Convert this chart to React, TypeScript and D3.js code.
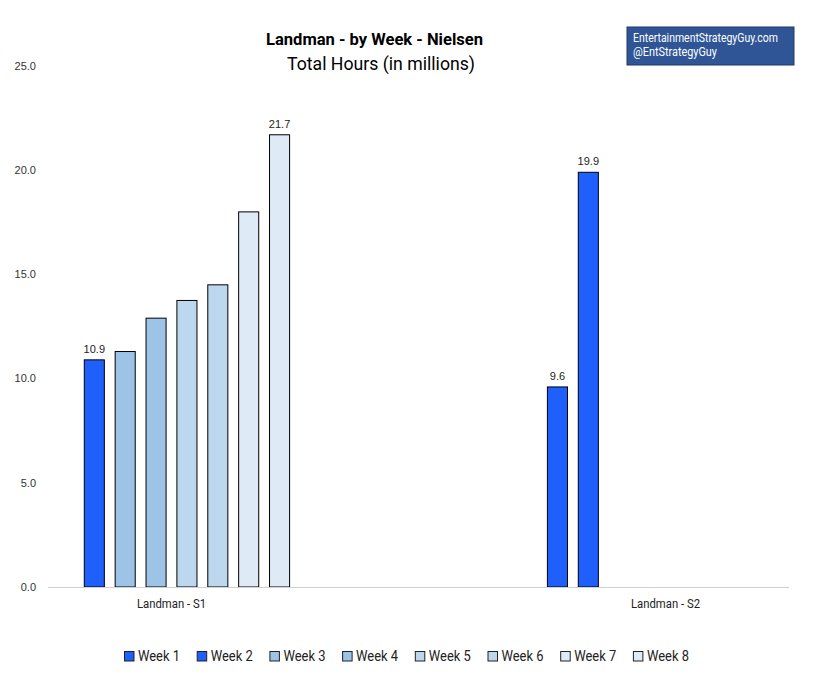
import * as d3 from 'd3'

const categories = ['Landman - S1', '', 'Landman - S2']
const weeks = ['Week 1', 'Week 2', 'Week 3', 'Week 4', 'Week 5', 'Week 6', 'Week 7', 'Week 8']
const s1Values: (number | null)[] = [null, 10.9, 11.3, 12.9, 13.75, 14.5, 18.0, 21.7]
const gapValues: (number | null)[] = [null, null, null, null, null, null, null, null]
const s2Values: (number | null)[] = [9.6, 19.9, null, null, null, null, null, null]
const seriesByCategory = [s1Values, gapValues, s2Values]
// bars that carry a value label: [category index, week index]
const labeledBars = [[0, 1], [0, 7], [2, 0], [2, 1]]
const weekColors = ['#1f5ffb', '#1f5ffb', '#9dc3e6', '#9dc3e6', '#bdd7ee', '#bdd7ee', '#deebf7', '#deebf7']
const yTicks = [0, 5, 10, 15, 20, 25]

const W = 823
const H = 690
const font = 'Roboto, "Liberation Sans", sans-serif'
const arial = '"Liberation Sans", Arial, sans-serif'

export default function App() {
  const x0 = d3.scaleBand<string>().domain(categories.map((c, i) => c + '#' + i)).range([48, 789])
  const x1 = d3.scaleBand<string>().domain(weeks).range([0, x0.bandwidth()])
  const y = d3.scaleLinear().domain([0, 25]).range([587, 66])
  const barW = x1.bandwidth() * 0.65

  const bars: JSX.Element[] = []
  const labels: JSX.Element[] = []
  seriesByCategory.forEach((vals, ci) => {
    const cx = x0(categories[ci] + '#' + ci) as number
    vals.forEach((v, wi) => {
      if (v == null) return
      const bx = cx + (x1(weeks[wi]) as number) + (x1.bandwidth() - barW) / 2
      bars.push(
        <rect key={`b${ci}-${wi}`} x={bx} y={y(v)} width={barW} height={y(0) - y(v)}
          fill={weekColors[wi]} stroke="#000" strokeWidth={1} />
      )
      if (labeledBars.some(([c, w]) => c === ci && w === wi)) {
        labels.push(
          <text key={`l${ci}-${wi}`} x={bx + barW / 2} y={y(v) - 7} textAnchor="middle"
            fontFamily={arial} fontSize={11} fill="#222">{v.toFixed(1)}</text>
        )
      }
    })
  })

  return (
    <svg width={W} height={H} style={{ position: 'absolute', left: 0, top: 0, background: '#fff' }}>
      <rect width={W} height={H} fill="#fff" />

      <text x={374.5} y={45} textAnchor="middle" fontFamily={font} fontWeight="bold" fontSize={17}
        textLength={217} lengthAdjust="spacingAndGlyphs" fill="#000">Landman - by Week - Nielsen</text>
      <text x={381} y={70} textAnchor="middle" fontFamily={font} fontSize={18}
        textLength={188} lengthAdjust="spacingAndGlyphs" fill="#000">Total Hours (in millions)</text>

      <rect x={627} y={27} width={167} height={38} fill="#2f5597" stroke="#1f3864" strokeWidth={1} />
      <text x={633} y={42} fontFamily={font} fontSize={12} fill="#fff"
        textLength={145} lengthAdjust="spacingAndGlyphs">EntertainmentStrategyGuy.com</text>
      <text x={633} y={56} fontFamily={font} fontSize={12} fill="#fff"
        textLength={84} lengthAdjust="spacingAndGlyphs">@EntStrategyGuy</text>

      {yTicks.map(t => (
        <text key={t} x={36} y={y(t)} dy="0.35em" textAnchor="end" fontFamily={arial}
          fontSize={11} fill="#333">{t.toFixed(1)}</text>
      ))}

      {bars}
      <line x1={48} x2={789} y1={y(0) + 0.5} y2={y(0) + 0.5} stroke="#d0d0d0" strokeWidth={1} />
      {labels}

      {categories.map((c, i) => c ? (
        <text key={c} x={(x0(c + '#' + i) as number) + x0.bandwidth() / 2} y={608} textAnchor="middle"
          fontFamily={font} fontSize={12} fill="#222" textLength={69} lengthAdjust="spacingAndGlyphs">{c}</text>
      ) : null)}

      {weeks.map((w, i) => (
        <g key={w} transform={`translate(${124 + i * 72.7},651)`}>
          <rect x={0.5} y={0.5} width={9.5} height={9.5} fill={weekColors[i]} stroke="#222" strokeWidth={1} />
          <text x={14} y={9.7} fontFamily={font} fontSize={15} fill="#222"
            textLength={42} lengthAdjust="spacingAndGlyphs">{w}</text>
        </g>
      ))}
    </svg>
  )
}
